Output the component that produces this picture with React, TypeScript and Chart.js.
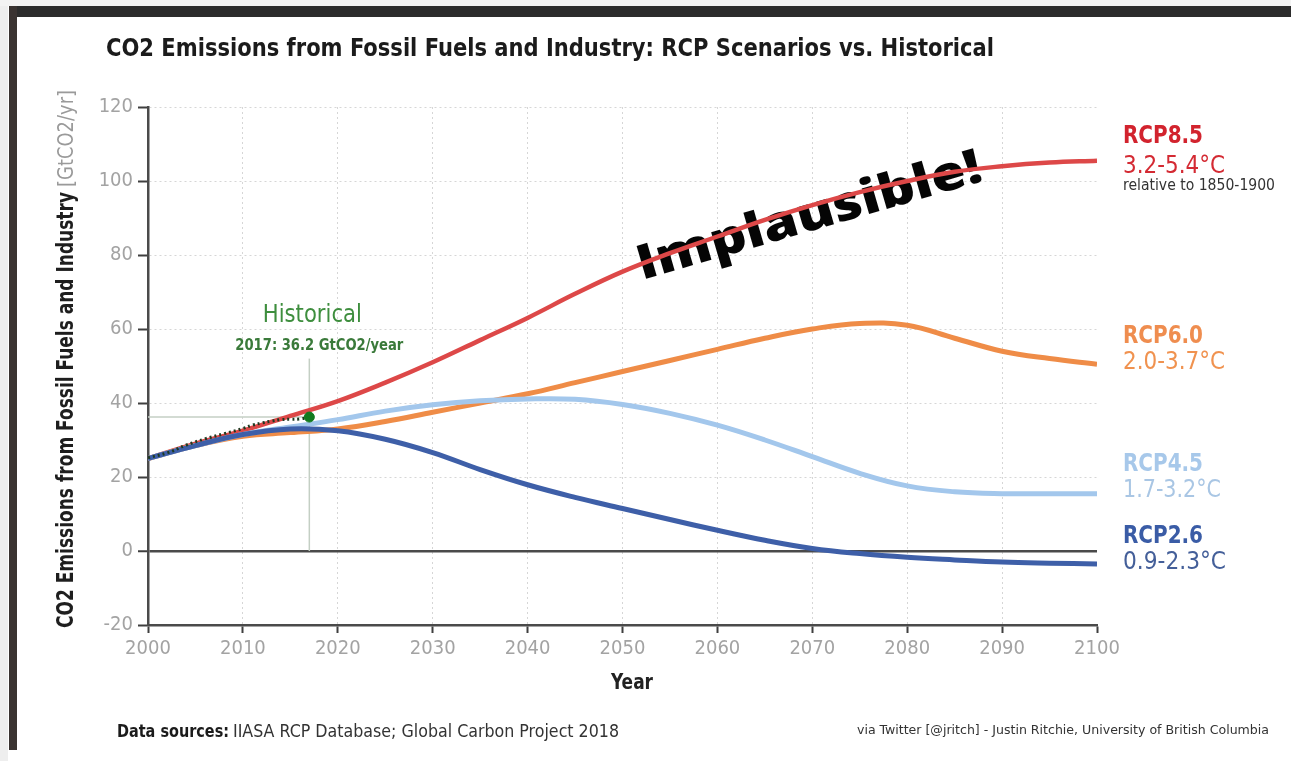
import React, { useEffect, useRef } from "react";
import { Chart, registerables } from "chart.js";

Chart.register(...registerables);

// ---------- data ----------
const years = [2000, 2005, 2010, 2015, 2020, 2025, 2030, 2035, 2040, 2045, 2050, 2055, 2060, 2065, 2070, 2075, 2080, 2085, 2090, 2095, 2100];
const rcp85 = [25, 29, 32.5, 36.5, 40.5, 45.5, 51, 57, 63, 69.5, 75.5, 80.5, 85, 89.5, 93.5, 97, 100, 102.5, 104, 105, 105.5];
const rcp60 = [25, 28.5, 31, 32, 33, 35, 37.5, 40, 42.5, 45.5, 48.5, 51.5, 54.5, 57.5, 60, 61.5, 61, 57.5, 54, 52, 50.5];
const rcp45 = [25, 28.5, 31.5, 33.5, 35.5, 37.8, 39.5, 40.6, 41.1, 41, 39.6, 37.2, 34, 30, 25.5, 21, 17.6, 16, 15.5, 15.5, 15.5];
const rcp26 = [25, 28.5, 31.5, 33, 32.5, 30.2, 26.6, 22, 17.9, 14.5, 11.5, 8.5, 5.6, 2.9, 0.7, -0.7, -1.7, -2.4, -3, -3.3, -3.5];

const histYears = [2000, 2002, 2004, 2006, 2008, 2010, 2011, 2012, 2013, 2014, 2015, 2016, 2017];
const histValues = [25.2, 26.5, 28.6, 30.3, 31.7, 33.1, 34.0, 34.6, 35.1, 35.5, 35.6, 35.7, 36.2];
const histLatestYear = 2017;
const histLatestValue = 36.2;
const refTopValue = 52;

const scenarioNames = ["RCP8.5", "RCP6.0", "RCP4.5", "RCP2.6"];
const scenarioRanges = ["3.2-5.4°C", "2.0-3.7°C", "1.7-3.2°C", "0.9-2.3°C"];

const xMin = 2000;
const xMax = 2100;
const xStep = 10;
const yMin = -20;
const yMax = 120;
const yStep = 20;

// ---------- styling ----------
const FONT = "'Liberation Sans Narrow','DejaVu Sans Condensed',Roboto,'Noto Sans',sans-serif";
const lineColors = ["#dd4848", "#ef8c47", "#a3c7ec", "#3e5fa8"];
const nameColors = ["#d2232e", "#ef8d4f", "#a7c8ea", "#3a5ca6"];
const rangeColors = ["#d42a33", "#f0924f", "#a9c6e4", "#445f99"];

function toXY(xs: number[], ys: number[]) {
  return xs.map((x, i) => ({ x, y: ys[i] }));
}

function fitText(
  ctx: CanvasRenderingContext2D,
  text: string,
  x: number,
  y: number,
  width: number,
  font: string,
  color: string,
  align: CanvasTextAlign = "left",
  baseline: CanvasTextBaseline = "middle"
) {
  ctx.save();
  ctx.font = font;
  const w = ctx.measureText(text).width || 1;
  ctx.translate(x, y);
  ctx.scale(width / w, 1);
  ctx.fillStyle = color;
  ctx.textAlign = align;
  ctx.textBaseline = baseline;
  ctx.fillText(text, 0, 0);
  ctx.restore();
}

const decorPlugin = {
  id: "decor",
  beforeDraw(chart: any) {
    const ctx: CanvasRenderingContext2D = chart.ctx;
    const W = chart.width;
    const H = chart.height;
    ctx.save();
    ctx.fillStyle = "#ffffff";
    ctx.fillRect(0, 0, W, H);
    ctx.fillStyle = "#eeeeee";
    ctx.fillRect(0, 0, 8, H);
    ctx.fillStyle = "#f3f3f3";
    ctx.fillRect(0, 0, W, 6);
    ctx.fillStyle = "#2c2c2c";
    ctx.fillRect(9, 6, W - 9, 11);
    ctx.fillStyle = "#3a3331";
    ctx.fillRect(9, 6, 8, 744);
    ctx.restore();

    fitText(ctx, "CO2 Emissions from Fossil Fuels and Industry: RCP Scenarios vs. Historical", 106, 49, 888, `bold 25px ${FONT}`, "#1b1b1b");

    // y axis title
    ctx.save();
    ctx.translate(67, 628);
    ctx.rotate(-Math.PI / 2);
    fitText(ctx, "CO2 Emissions from Fossil Fuels and Industry", 0, 0, 436, `bold 23px ${FONT}`, "#1e1e1e");
    fitText(ctx, "[GtCO2/yr]", 441, 0, 97, `22px ${FONT}`, "#9a9a9a");
    ctx.restore();

    fitText(ctx, "Year", 632, 683, 42, `bold 22px ${FONT}`, "#222222", "center");

    // footer
    fitText(ctx, "Data sources:", 117, 733, 112, `bold 17px ${FONT}`, "#1b1b1b");
    fitText(ctx, "IIASA RCP Database; Global Carbon Project 2018", 233, 733, 386, `17px ${FONT}`, "#333333");
    fitText(ctx, "via Twitter [@jritch] - Justin Ritchie, University of British Columbia", 857, 731, 412, `12px ${FONT}`, "#333333");
  },
  beforeDatasetsDraw(chart: any) {
    const ctx: CanvasRenderingContext2D = chart.ctx;
    ctx.save();
    ctx.translate(642, 280);
    ctx.rotate((-16.2 * Math.PI) / 180);
    fitText(ctx, "Implausible!", 0, 0, 357, `800 48px 'Open Sans','DejaVu Sans',sans-serif`, "#050505", "left", "alphabetic");
    ctx.restore();
  },
  afterDatasetsDraw(chart: any) {
    const ctx: CanvasRenderingContext2D = chart.ctx;
    const xs = chart.scales.x;
    const px = xs.getPixelForValue(histLatestYear);
    fitText(ctx, "Historical", px + 3, 315, 99, `500 25px ${FONT}`, "#3e8e3e", "center");
    fitText(ctx, "2017: 36.2 GtCO2/year", px + 10, 346, 168, `bold 16px ${FONT}`, "#3a7a3a", "center");

    const nameY = [136, 336, 464, 536];
    const rangeY = [166, 362, 490, 562];
    const rangeW = [102, 102, 98, 103];
    const lx = 1123;
    for (let i = 0; i < scenarioNames.length; i++) {
      fitText(ctx, scenarioNames[i], lx, nameY[i], 80, `bold 25px ${FONT}`, nameColors[i]);
      fitText(ctx, scenarioRanges[i], lx, rangeY[i], rangeW[i], `500 25px ${FONT}`, rangeColors[i]);
    }
    fitText(ctx, "relative to 1850-1900", lx, 186, 152, `500 15px ${FONT}`, "#333333");
  },
};

export default function App() {
  const ref = useRef<HTMLCanvasElement | null>(null);

  useEffect(() => {
    if (!ref.current) return;
    const tickOf = (c: any) => (c && c.tick ? c.tick.value : null);
    const chart = new Chart(ref.current, {
      type: "line",
      data: {
        datasets: [
          {
            label: "2017",
            data: [{ x: histLatestYear, y: histLatestValue }],
            showLine: false,
            pointRadius: 5,
            pointBackgroundColor: "#127a1f",
            pointBorderColor: "#127a1f",
            borderColor: "#127a1f",
          },
          {
            label: "Historical",
            data: toXY(histYears, histValues),
            borderColor: "#1f3a22",
            borderWidth: 3,
            borderDash: [2, 3],
            pointRadius: 0,
            tension: 0.4,
          },
          {
            label: "RCP2.6",
            data: toXY(years, rcp26),
            borderColor: lineColors[3],
            borderWidth: 5,
            pointRadius: 0,
            tension: 0.4,
          },
          {
            label: "RCP4.5",
            data: toXY(years, rcp45),
            borderColor: lineColors[2],
            borderWidth: 5,
            pointRadius: 0,
            tension: 0.4,
          },
          {
            label: "RCP6.0",
            data: toXY(years, rcp60),
            borderColor: lineColors[1],
            borderWidth: 5,
            pointRadius: 0,
            tension: 0.4,
          },
          {
            label: "RCP8.5",
            data: toXY(years, rcp85),
            borderColor: lineColors[0],
            borderWidth: 4.5,
            pointRadius: 0,
            tension: 0.4,
          },
          {
            label: "refH",
            data: [{ x: xMin, y: histLatestValue }, { x: histLatestYear, y: histLatestValue }],
            borderColor: "#c4cfc4",
            borderWidth: 1.5,
            pointRadius: 0,
          },
          {
            label: "refV",
            data: [{ x: histLatestYear, y: 0 }, { x: histLatestYear, y: refTopValue }],
            borderColor: "#c4cfc4",
            borderWidth: 1.5,
            pointRadius: 0,
          },
        ],
      },
      options: {
        animation: false,
        responsive: false,
        maintainAspectRatio: false,
        devicePixelRatio: 1,
        layout: { padding: { left: 90, top: 107, right: 194, bottom: 96 } },
        plugins: {
          legend: { display: false },
          tooltip: { enabled: false },
          title: { display: false },
        },
        scales: {
          x: {
            type: "linear",
            min: xMin,
            max: xMax,
            afterFit: (s: any) => {
              s.height = 40;
            },
            ticks: {
              stepSize: xStep,
              callback: (v: any) => String(v),
              color: "#a3a3a3",
              font: { family: FONT, size: 20 },
              padding: 4,
              maxRotation: 0,
            },
            grid: {
              color: (c: any) => (tickOf(c) === xMax ? "rgba(0,0,0,0)" : "#d6d6d6"),
              lineWidth: 1,
              tickColor: "#3f3f3f",
              tickWidth: 2,
              tickLength: 8,
            },
            border: { display: true, color: "#4a4a4a", width: 2.5, dash: [2, 3] },
          },
          y: {
            type: "linear",
            min: yMin,
            max: yMax,
            afterFit: (s: any) => {
              s.width = 58;
            },
            ticks: {
              stepSize: yStep,
              color: "#a3a3a3",
              font: { family: FONT, size: 20 },
              padding: 5,
            },
            grid: {
              color: (c: any) => {
                const v = tickOf(c);
                if (v === 0) return "#4a4a4a";
                if (v === yMin) return "rgba(0,0,0,0)";
                return "#d6d6d6";
              },
              lineWidth: (c: any) => (tickOf(c) === 0 ? 2.5 : 1),
              tickColor: "#3f3f3f",
              tickWidth: 2,
              tickLength: 10,
            },
            border: {
              display: true,
              color: "#4a4a4a",
              width: 2.5,
              dash: (c: any) => (tickOf(c) === 0 ? [] : [2, 3]),
            },
          },
        },
      } as any,
      plugins: [decorPlugin],
    });
    return () => chart.destroy();
  }, []);

  return (
    <div style={{ position: "absolute", left: 0, top: 0, width: 1291, height: 761, background: "#fff" }}>
      <canvas ref={ref} width={1291} height={761} style={{ display: "block", width: 1291, height: 761 }} />
    </div>
  );
}
